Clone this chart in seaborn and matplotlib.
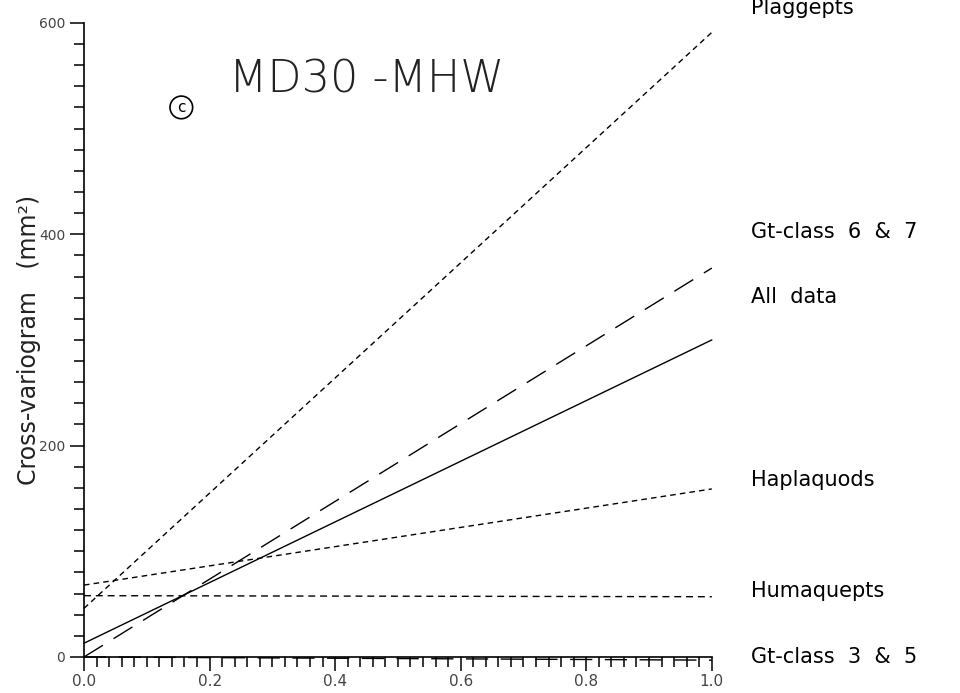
import numpy as np
import pandas as pd
import matplotlib.pyplot as plt
from matplotlib.ticker import MultipleLocator, FormatStrFormatter
import seaborn as sns

# Style
sns.set_style("ticks")
plt.rcParams['font.family'] = ['DejaVu Sans']
plt.rcParams['text.color'] = 'black'

# Data: straight cross-variogram models
series = ["Plaggepts", "Gt-class 6 & 7", "All data",
          "Haplaquods", "Humaquepts", "Gt-class 3 & 5"]
lag = [0.0, 1.0]
gamma_start = [46, 0, 13, 68, 58, 0]
gamma_end = [591, 368, 300, 159, 57, -3]
label_y = [614, 402, 341, 167, 62, 0]

# Long table for seaborn
rows = []
for name, g0, g1 in zip(series, gamma_start, gamma_end):
    rows.append({"series": name, "lag": lag[0], "gamma": g0})
    rows.append({"series": name, "lag": lag[1], "gamma": g1})
df = pd.DataFrame(rows)

dashes = {
    "Plaggepts": (4, 3),
    "Gt-class 6 & 7": (16, 9),
    "All data": "",
    "Haplaquods": (4, 3),
    "Humaquepts": (5, 3.5),
    "Gt-class 3 & 5": (16, 9),
}

fig = plt.figure(figsize=(9.6, 6.93), dpi=100)
ax = fig.add_axes([0.0875, 0.052, 0.654, 0.915])

sns.lineplot(data=df, x="lag", y="gamma", style="series", dashes=dashes,
             color="black", lw=1.0, legend=False, ax=ax)
for line in ax.lines:
    line.set_clip_on(False)

ax.set_xlim(0, 1)
ax.set_ylim(0, 600)
sns.despine(ax=ax)

ax.xaxis.set_major_locator(MultipleLocator(0.2))
ax.xaxis.set_minor_locator(MultipleLocator(0.02))
ax.xaxis.set_major_formatter(FormatStrFormatter('%.1f'))
ax.yaxis.set_major_locator(MultipleLocator(200))
ax.yaxis.set_minor_locator(MultipleLocator(20))
ax.tick_params(which='major', length=10, width=1.1, direction='out',
               labelsize=10, labelcolor='#444444', color='black')
ax.tick_params(axis='x', which='major', labelsize=11, pad=2)
ax.tick_params(which='minor', length=7, width=1.1, direction='out', color='black')
for sp in ax.spines.values():
    sp.set_linewidth(1.2)
    sp.set_color('black')

ax.set_xlabel("")
ax.set_ylabel("Cross-variogram   (mm²)", fontsize=17, color='#222222')
ax.yaxis.set_label_coords(-0.068, 0.5)

# Labels on the right (spaced out like the original lettering)
for name, y in zip(series, label_y):
    ax.text(1.063, y, name.replace(" ", "  "), ha='left', va='center',
            fontsize=15, color='black')

ax.text(0.45, 546, "MD30 -MHW", ha='center', va='center',
        fontsize=32, fontweight='light', color='#222222')
ax.text(0.155, 520, "c", ha='center', va='center', fontsize=11,
        bbox=dict(boxstyle='circle,pad=0.25', fc='none', ec='black', lw=1.2))

plt.savefig("out.png", dpi=100)
